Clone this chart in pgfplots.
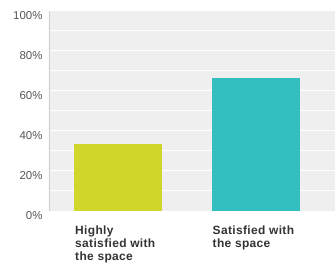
\documentclass[border=0pt]{standalone}
\usepackage{pgfplots}
\pgfplotsset{compat=1.18}
\usepackage{fontspec}
\setmainfont{Liberation Sans}
\newfontfamily\labfont[LetterSpace=3]{Liberation Sans}
\definecolor{bgc}{HTML}{EFEFEF}
\definecolor{barA}{HTML}{D0D62A}
\definecolor{barB}{HTML}{33BEBF}
\definecolor{ytxt}{HTML}{555555}
\definecolor{xtxt}{HTML}{333333}
\begin{document}
\begin{tikzpicture}
\begin{axis}[
  scale only axis, width=286bp, height=200bp,
  xmin=-0.502, xmax=1.578, ymin=0, ymax=100,
  axis background/.style={fill=bgc},
  axis line style={draw=none},
  ytick={0,20,...,100}, minor ytick={10,30,...,90},
  ymajorgrids, yminorgrids,
  major grid style={white, line width=1bp},
  minor grid style={white, line width=1bp},
  major tick length=0pt, minor tick length=0pt,
  /pgf/number format/assume math mode=true,
  yticklabel={\pgfmathprintnumber{\tick}\%},
  yticklabel style={font=\fontsize{11.5}{13}\selectfont, text=ytxt, yshift=-4.5bp, xshift=-3bp},
  xtick={0,1},
  xticklabels={Highly\\satisfied with\\the space, Satisfied with\\the space},
  xticklabel style={align=left, anchor=north west, inner sep=0pt, xshift=-43bp, yshift=-15bp,
    font=\fontsize{12}{13}\labfont\bfseries, text=xtxt},
  ybar, bar width=88bp,
]
\addplot[fill=barA, draw=none, bar shift=0pt] coordinates {(0,33.3)};
\addplot[fill=barB, draw=none, bar shift=0pt] coordinates {(1,66.7)};
\draw[black!18, line width=1.5bp] (rel axis cs:0,0) -- (rel axis cs:0,1);
\coordinate (O) at (rel axis cs:0,0);
\coordinate (T) at (rel axis cs:1,1);
\end{axis}
\pgfresetboundingbox
\path ([shift={(-49bp,-55bp)}]O) rectangle ([shift={(0bp,11bp)}]T);
\end{tikzpicture}
\end{document}
